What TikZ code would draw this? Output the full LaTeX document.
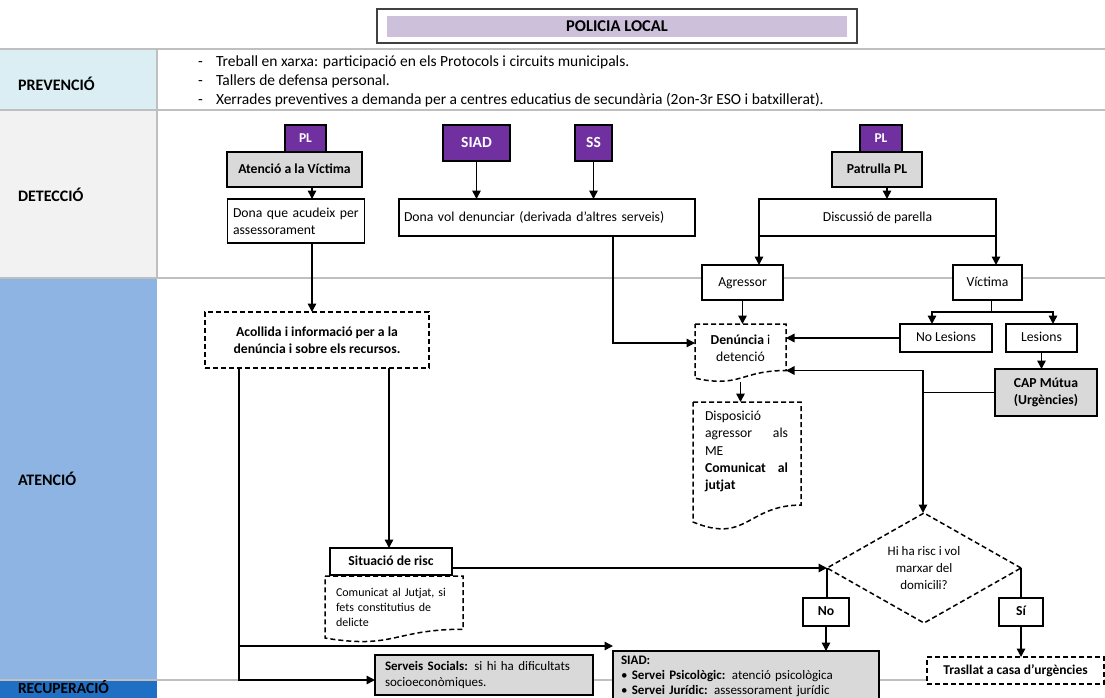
\documentclass[tikz,border=0pt]{standalone}
\usepackage{fontspec}
\setmainfont{Carlito}
\usetikzlibrary{arrows.meta,shapes.geometric,calc}

\definecolor{lav}{HTML}{CCC0DA}
\definecolor{purp}{HTML}{7030A0}
\definecolor{boxgray}{HTML}{D9D9D9}
\definecolor{rowline}{HTML}{BFBFBF}
\definecolor{prevfill}{HTML}{DAEEF3}
\definecolor{detfill}{HTML}{F2F2F2}
\definecolor{atenfill}{HTML}{8DB4E2}
\definecolor{recfill}{HTML}{1F6FC5}

% outline of a flowchart "document" shape around node #1 (wavy bottom edge)
\newcommand\docoutline[1]{%
  \draw[dsh, line width=1.5pt]
    (#1.north west) -- (#1.north east)
    -- ($(#1.north east)!0.802!(#1.south east)$)
    .. controls ($(#1.north)!0.802!(#1.south)$) and ($(#1.north)!1.107!(#1.south)$)
    .. ($(#1.north west)!0.934!(#1.south west)$) -- cycle;}

\begin{document}
\begin{tikzpicture}[x=1pt,y=-1pt,
  every node/.style={inner sep=0pt, outer sep=0pt},
  nf/.style={font=\fontsize{13.7}{17}\selectfont},
  nfb/.style={font=\fontsize{13.7}{17}\selectfont\bfseries},
  oneline/.style={text height=9.5pt, text depth=2.5pt},
  txt/.style={font=\fontsize{15.5}{19}\selectfont},
  lab/.style={font=\fontsize{16}{19}\selectfont\bfseries, anchor=west},
  cell/.style={minimum width=157, anchor=north west},
  dsh/.style={dash pattern=on 5pt off 3pt},
  box/.style={draw, line width=1.5pt, fill=white, nf, align=center},
  graybox/.style={box, fill=boxgray, nfb},
  tag/.style={draw, line width=1.5pt, fill=purp, text=white, oneline, font=\fontsize{13.5}{16}\selectfont\bfseries},
  bigtag/.style={tag, text height=10.5pt, text depth=1pt, font=\fontsize{15.5}{18}\selectfont\bfseries},
  dbox/.style={box, dsh},
  arr/.style={line width=1.5pt, -{Triangle[length=8.5pt,width=8.5pt]}},
  link/.style={line width=1.5pt},
  rowrule/.style={draw=rowline, line width=1.3pt}
]
\useasboundingbox (0,0) rectangle (1105,697);
\fill[white] (0,0) rectangle (1105,697);

% ---------- title ----------
\node[draw=black!75, line width=1.6pt, minimum width=480, minimum height=34] (titleframe) at (617,26) {};
\node[fill=lav, minimum width=460, minimum height=21, font=\fontsize{16.5}{18}\selectfont\bfseries] (title) at (617,26.5) {POLICIA LOCAL};

% ---------- phase column ----------
\node[cell, fill=prevfill, minimum height=61] (prevcell) at (0,49) {};
\node[cell, fill=detfill, minimum height=168] (detcell) at (0,110) {};
\node[cell, fill=atenfill, minimum height=402] (atencell) at (0,278) {};
\node[cell, fill=recfill, minimum height=20] (reccell) at (0,680) {};

\draw[rowrule] (0,49) -- (1105,49);
\draw[rowrule] (0,110) -- (1105,110);
\draw[rowrule] (0,278) -- (1105,278);
\draw[rowrule] (0,680) -- (1105,680);
\draw[rowrule] (157,49) -- (157,278);

\node[lab] (prevlab) at (18,84) {PREVENCIÓ};
\node[lab] (detlab) at (18,195) {DETECCIÓ};
\node[lab] (atenlab) at (18,479) {ATENCIÓ};
\node[lab, font=\fontsize{15.5}{17}\selectfont\bfseries, text height=10pt, text depth=0pt] (reclab) at (18,688) {RECUPERACIÓ};

% ---------- prevention items ----------
\node[txt, anchor=base west] (dash1) at (198,66) {-};
\node[txt, anchor=base west] (prev1) at (216,66) {Treball en xarxa: participació en els Protocols i circuits municipals.};
\node[txt, anchor=base west] (dash2) at (198,85) {-};
\node[txt, anchor=base west] (prev2) at (216,85) {Tallers de defensa personal.};
\node[txt, anchor=base west] (dash3) at (198,104) {-};
\node[txt, anchor=base west] (prev3) at (216,104) {Xerrades preventives a demanda per a centres educatius de secundària (2on-3r ESO i batxillerat).};

% ---------- detection ----------
\node[tag, minimum width=41, minimum height=27] (plA) at (305.5,138.5) {PL};
\node[graybox, oneline, minimum width=135, minimum height=35] (vict) at (294.5,169.5) {Atenció a la Víctima};
\node[box, minimum width=137, minimum height=44, text width=126, align=left] (donaA) at (296,221) {Dona que acudeix per\\assessorament};

\node[bigtag, minimum width=67, minimum height=36] (siad) at (476.5,143) {SIAD};
\node[bigtag, minimum width=37, minimum height=36] (ss) at (593.5,143) {SS};
\node[box, oneline, minimum width=296, minimum height=37, text width=286, align=left] (donaV) at (547,217.5) {Dona vol denunciar (derivada d’altres serveis)};

\node[tag, minimum width=42, minimum height=27] (plB) at (881,138.5) {PL};
\node[graybox, oneline, minimum width=90, minimum height=35] (patr) at (877,169.5) {Patrulla PL};
\node[box, oneline, minimum width=237, minimum height=37] (disc) at (877.5,217.5) {Discussió de parella};

\node[box, oneline, minimum width=81, minimum height=35] (agr) at (742.5,282.5) {Agressor};
\node[box, oneline, minimum width=69, minimum height=35] (vic) at (987.5,282.5) {Víctima};
\node[box, oneline, minimum width=92, minimum height=28] (nolz) at (946,338) {No Lesions};
\node[box, oneline, minimum width=71, minimum height=28] (lz) at (1041.5,338) {Lesions};
\node[graybox, minimum width=102, minimum height=47] (cap) at (1046,392.5) {CAP Mútua\\(Urgències)};

% ---------- attention ----------
\node[dbox, minimum width=224, minimum height=56, nfb] (acol) at (317,340) {Acollida i informació per a la\\denúncia i sobre els recursos.};

\node[minimum width=91, minimum height=58] (den) at (740.5,353) {};
\docoutline{den}
\node[align=center, nf] (dentext) at (740.5,348) {\textbf{Denúncia} i\\detenció};

\node[minimum width=108, minimum height=128.5] (disp) at (747,466.25) {};
\docoutline{disp}
\node[text width=83, align=left, font=\fontsize{13.7}{17.3}\selectfont] (disptext) at (746.5,451.5)
  {Disposició\\agressor\hfill als\\ME\\\textbf{Comunicat\hfill al}\\\textbf{jutjat}};

\node[box, oneline, minimum width=122, minimum height=27, nfb] (sit) at (391,561.5) {Situació de risc};

\node[minimum width=138, minimum height=66.4] (com) at (394,609.2) {};
\docoutline{com}
\node[text width=120, align=left, font=\fontsize{12}{15}\selectfont] (comtext) at (396,607)
  {Comunicat al Jutjat, si\\fets constitutius de\\delicte};

\node[dbox, diamond, aspect=1.76, minimum width=194, minimum height=110, fill=none, font=\fontsize{13}{17}\selectfont] (dia) at (924,568) {Hi ha risc i vol\\marxar del\\domicili?};

\node[box, oneline, minimum width=46, minimum height=28, nfb] (no) at (826,612) {No};
\node[box, oneline, minimum width=44, minimum height=28, nfb] (si) at (1021,612) {Sí};

% ---------- recovery ----------
\node[box, fill=boxgray, minimum width=218, minimum height=40, text width=198, align=left, font=\fontsize{13}{15.5}\selectfont] (serv) at (484,675)
  {\textbf{Serveis Socials:} si hi ha dificultats\\socioeconòmiques.};
\node[box, fill=boxgray, minimum width=266, minimum height=50, text width=250, align=left, font=\fontsize{13}{15}\selectfont] (sia) at (746,676)
  {\textbf{SIAD:}\\\textbullet\ \textbf{Servei Psicològic:} atenció psicològica\\\textbullet\ \textbf{Servei Jurídic:} assessorament jurídic};
\node[dbox, oneline, minimum width=177, minimum height=27, font=\fontsize{13.5}{15}\selectfont\bfseries] (tras) at (1015.5,670.5) {Trasllat a casa d’urgències};

% ---------- connectors ----------
\draw[arr] ($(vict.south)+(17.5,0)$) coordinate (va) -- (va |- donaA.north);
\draw[arr] ($(donaA.south)+(16,0)$) coordinate (da) -- (da |- acol.north);
\draw[arr] (siad.south) -- (siad.south |- donaV.north);
\draw[arr] (ss.south) -- (ss.south |- donaV.north);
\draw[arr] ($(patr.south)+(10,0)$) coordinate (pa) -- (pa |- disc.north);
\draw[arr] (disc.south west) -- (disc.south west |- agr.north);
\draw[arr] (disc.south east) -- (disc.south east |- vic.north);

\draw[link] ($(vic.south)+(4,0)$) -- ++(0,12) coordinate (vj);
\draw[arr] (vj) -| ([xshift=-14pt]nolz.north);
\draw[arr] (vj) -| ([xshift=11.5pt]lz.north);
\draw[arr] (lz.south) -- (lz.south |- cap.north);

\draw[arr] (agr.south) -- (agr.south |- den.north);
\draw[arr] ($(donaV.south east)+(-82,0)$) coordinate (dv) |- ([yshift=-19pt]den.north west);
\draw[arr] (nolz.west) -- (nolz.west -| den.east);
\coordinate (cj) at ($(cap.west)+(-72,0)$);
\draw[link] (cap.west) -- (cj);
\draw[arr] (cj) |- ([yshift=-46.5pt]den.north east);
\draw[arr] (cj) -- (cj |- dia.north);
\draw[arr] (den.south) -- (den.south |- disp.north);

\coordinate (al) at ($(acol.south west)+(34,0)$);
\coordinate (aj) at ($(al)+(0,278)$);
\draw[arr] (al) |- ([yshift=-5pt]serv.west);
\draw[arr] (aj) -- (aj -| sia.west);
\draw[arr] ($(acol.south west)+(184,0)$) coordinate (ar) -- (ar |- sit.north);

\draw[arr] (dia.west -| sit.east) -- (dia.west);
\draw[link] (dia.west) -- (dia.west |- no.north);
\draw[link] (dia.east) -- (dia.east |- si.north);
\draw[arr] (no.south) -- (no.south |- sia.north);
\draw[arr] (si.south) -- (si.south |- tras.north);
\end{tikzpicture}
\end{document}
